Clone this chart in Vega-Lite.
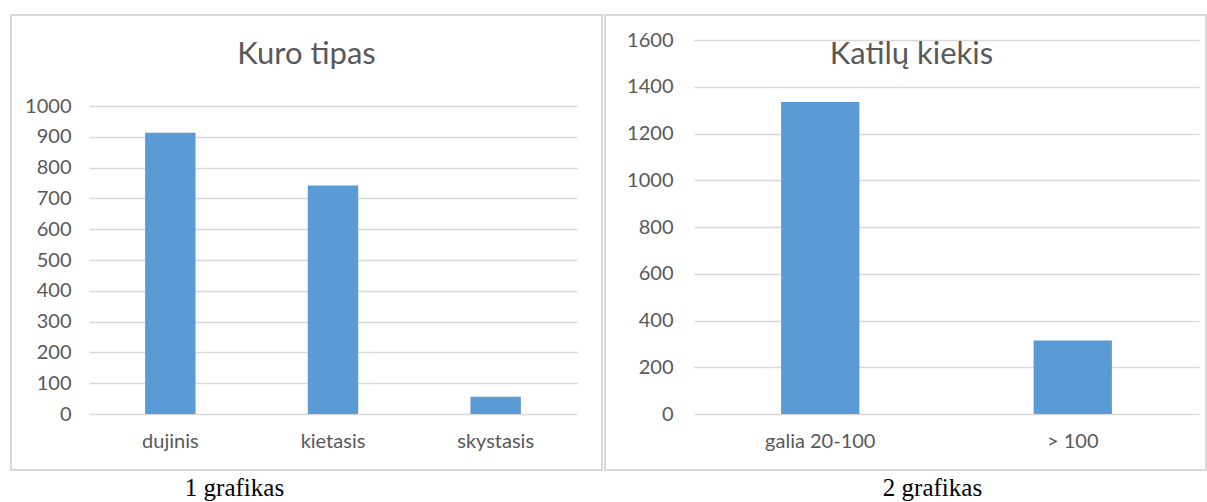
{
  "$schema": "https://vega.github.io/schema/vega-lite/v6.json",
  "background": "white",
  "padding": {"left": 10, "top": 14, "right": 2, "bottom": 0},
  "spacing": 1,
  "config": {
    "view": {"stroke": "#d9d9d9", "strokeWidth": 2},
    "font": "Lato",
    "axis": {"labelFont": "Lato", "labelColor": "#595959", "labelFontSize": 20, "domain": false, "ticks": false, "gridColor": "#d9d9d9", "gridWidth": 1.3},
    "title": {"font": "Lato", "fontSize": 31, "fontWeight": "normal", "color": "#595959", "baseline": "alphabetic", "anchor": "middle"}
  },
  "hconcat": [
    {
      "width": 591,
      "height": 455,
      "title": {"text": "Kuro tipas", "offset": -56},
      "data": {"values": [
        {"kuras": "dujinis", "kiekis": 913},
        {"kuras": "kietasis", "kiekis": 742},
        {"kuras": "skystasis", "kiekis": 56}
      ]},
      "mark": {"type": "bar", "color": "#5b9bd5"},
      "encoding": {
        "x": {"field": "kuras", "type": "nominal", "sort": null,
          "scale": {"range": [78, 566], "paddingInner": 0.69, "paddingOuter": 0.345},
          "axis": {"title": "1 grafikas", "labelAngle": 0, "offset": -56, "labelPadding": 17, "grid": false,
            "titleFont": "Liberation Serif", "titleFontSize": 25, "titleFontWeight": "normal", "titleColor": "black",
            "titleX": 223, "titleY": 81, "titleBaseline": "alphabetic", "titleAlign": "center"}},
        "y": {"field": "kiekis", "type": "quantitative",
          "scale": {"domain": [0, 1000], "range": [399, 91], "nice": false},
          "axis": {"title": null, "format": "d", "values": [0, 100, 200, 300, 400, 500, 600, 700, 800, 900, 1000], "offset": -60, "labelPadding": 0}}
      }
    },
    {
      "width": 601,
      "height": 455,
      "title": {"text": "Katilų kiekis", "offset": -56, "dx": 6},
      "data": {"values": [
        {"galia": "galia 20-100", "kiekis": 1335},
        {"galia": "> 100", "kiekis": 314}
      ]},
      "mark": {"type": "bar", "color": "#5b9bd5"},
      "encoding": {
        "x": {"field": "galia", "type": "nominal", "sort": null,
          "scale": {"range": [89, 594], "paddingInner": 0.69, "paddingOuter": 0.345},
          "axis": {"title": "2 grafikas", "labelAngle": 0, "offset": -56, "labelPadding": 17, "grid": false,
            "titleFont": "Liberation Serif", "titleFontSize": 25, "titleFontWeight": "normal", "titleColor": "black",
            "titleX": 327, "titleY": 81, "titleBaseline": "alphabetic", "titleAlign": "center"}},
        "y": {"field": "kiekis", "type": "quantitative",
          "scale": {"domain": [0, 1600], "range": [399, 25], "nice": false},
          "axis": {"title": null, "format": "d", "values": [0, 200, 400, 600, 800, 1000, 1200, 1400, 1600], "offset": -68, "labelPadding": 0}}
      }
    }
  ]
}
